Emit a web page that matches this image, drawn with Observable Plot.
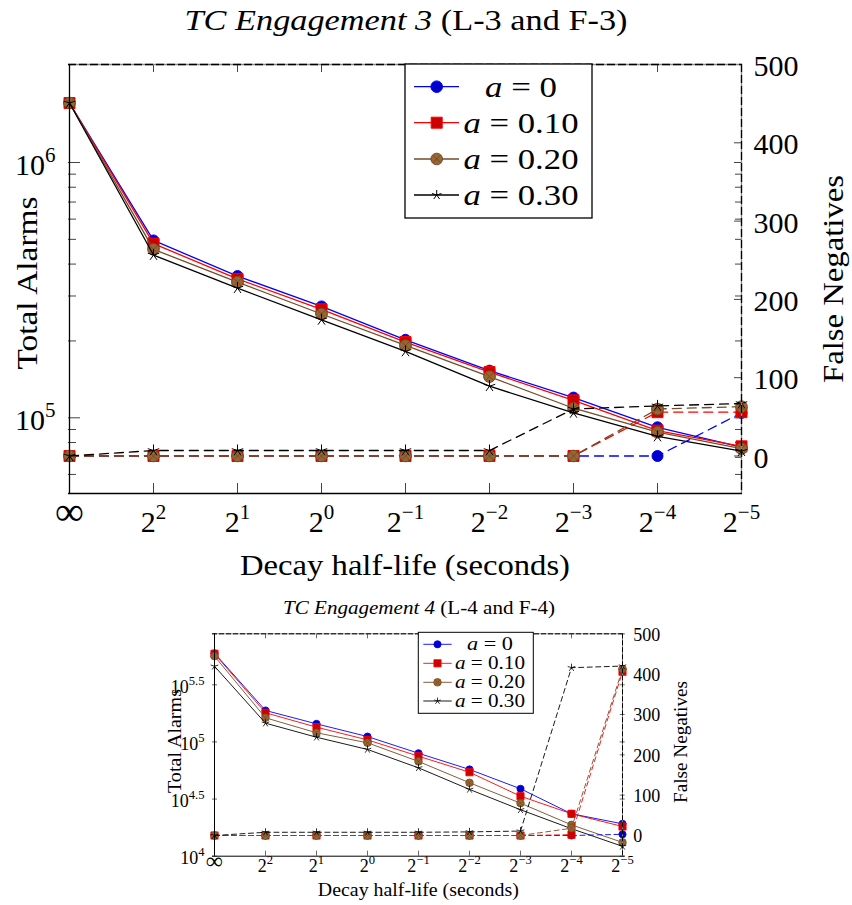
<!DOCTYPE html>
<html><head><meta charset="utf-8">
<script src="https://cdn.jsdelivr.net/npm/d3@7"></script>
<script src="https://cdn.jsdelivr.net/npm/@observablehq/plot@0.6"></script>
<style>
html,body{margin:0;padding:0;background:#fff;}
#page{position:relative;width:852px;height:905px;overflow:hidden;background:#fff;}
</style></head>
<body><div id="page"></div>
<script>
// ---------------- data ----------------
const xLabels = ["∞","2^2","2^1","2^0","2^-1","2^-2","2^-3","2^-4","2^-5"];
const seriesNames = ["a = 0","a = 0.10","a = 0.20","a = 0.30"];
const titleE3 = ["TC Engagement 3", "(L-3 and F-3)"];
const titleE4 = ["TC Engagement 4", "(L-4 and F-4)"];
const xTitle = "Decay half-life (seconds)";
const yLeftTitle = "Total Alarms";
const yRightTitle = "False Negatives";

const alarmsE3 = [
  [1710000, 495000, 359000, 273000, 202000, 153000, 120000, 91800, 76700],
  [1710000, 481000, 350000, 266000, 198000, 151000, 117000, 89100, 77300],
  [1710000, 457000, 340000, 255000, 192000, 145000, 109000, 87800, 75700],
  [1710000, 434000, 322000, 242000, 182000, 133000, 104500, 84500, 74000]
];
const falseNegE3 = [
  [0, 0, 0, 0, 0, 0, 0, 0, 55],
  [0, 0, 0, 0, 0, 0, 0, 56, 56],
  [0, 0, 0, 0, 0, 0, 0, 60, 63],
  [0, 7, 7, 7, 7, 7, 60, 64, 67]
];
const alarmsE4 = [
  [597000, 188400, 143900, 111400, 79600, 57400, 38900, 23500, 19200],
  [590200, 179900, 134600, 104200, 75000, 54300, 33500, 23500, 18200],
  [562300, 162600, 120200, 98200, 67500, 43900, 29100, 18800, 13200],
  [459200, 145900, 109900, 85900, 59300, 38400, 25500, 17400, 12200]
];
const falseNegE4 = [
  [0, 0, 0, 0, 0, 0, 0, 0, 3],
  [0, 0, 0, 0, 0, 0, 0, 2, 406],
  [0, 0, 0, 0, 0, 0, 0, 18, 413],
  [0, 8, 8, 8, 8, 9, 11, 416, 420]
];
const leftTickExpE3 = [5, 6];
const leftTickExpE4 = [4, 4.5, 5, 5.5];
const fnTicks = [0, 100, 200, 300, 400, 500];

// ---------------- styles ----------------
const FONT = "'Liberation Serif', 'DejaVu Serif', serif";
const lineColors = ["#0000ff", "#ff0000", "#734d26", "#000000"];
const markFills = ["#0000cc", "#cc0000", "#996633", "none"];

const symCircle = {draw(ctx, size) { const r = Math.sqrt(size / Math.PI); ctx.moveTo(r, 0); ctx.arc(0, 0, r, 0, 2 * Math.PI); }};
const symSquare = {draw(ctx, size) { const r = Math.sqrt(size / Math.PI) * 0.95; ctx.moveTo(-r, -r); ctx.lineTo(r, -r); ctx.lineTo(r, r); ctx.lineTo(-r, r); ctx.closePath(); }};
const symOtimes = {draw(ctx, size) { const r = Math.sqrt(size / Math.PI); ctx.moveTo(r, 0); ctx.arc(0, 0, r, 0, 2 * Math.PI); const s = r * Math.SQRT1_2; ctx.moveTo(-s, -s); ctx.lineTo(s, s); ctx.moveTo(-s, s); ctx.lineTo(s, -s); }};
const symStar = {draw(ctx, size) { const r = Math.sqrt(size / Math.PI); for (let k = 0; k < 5; k++) { const a = -Math.PI / 2 + k * 2 * Math.PI / 5; ctx.moveTo(0, 0); ctx.lineTo(r * Math.cos(a), r * Math.sin(a)); } }};
const symbols = [symCircle, symSquare, symOtimes, symStar];

const SVGNS = "http://www.w3.org/2000/svg";
function supify(root) {
  root.querySelectorAll("text").forEach(t => {
    if (t.children.length) return;
    const s = t.textContent;
    const i = s.indexOf("^");
    if (i < 0) return;
    t.textContent = s.slice(0, i);
    const ts = document.createElementNS(SVGNS, "tspan");
    ts.setAttribute("dy", "-0.62em");
    ts.setAttribute("font-size", "0.7em");
    ts.textContent = s.slice(i + 1).replace("-", "\u2212");
    t.appendChild(ts);
  });
}

function panel(o) {
  const [L0, L1] = o.logDomain, [F0, F1] = o.fnDomain;
  const fnToY = v => 10 ** (L0 + (v - F0) / (F1 - F0) * (L1 - L0));
  const yToFn = y => F0 + (Math.log10(y) - L0) / (L1 - L0) * (F1 - F0);
  const fw = o.width - o.marginLeft - o.marginRight;
  const fh = o.height - o.marginTop - o.marginBottom;
  const majors = o.leftExp.map(e => 10 ** e);
  const minors = [];
  if (o.minor) {
    for (let k = Math.floor(L0); k < Math.max(...o.leftExp); k++)
      for (let m = 2; m <= 9; m++) { const v = m * 10 ** k; if (v > 10 ** L0 && v < 10 ** L1) minors.push(v); }
  }
  const last = xLabels[xLabels.length - 1];
  const marks = [
    Plot.tickX(xLabels.slice(1, -1), {x: d => d, insetTop: fh - o.xTickLen, stroke: "#444", strokeWidth: o.tickW}),
    Plot.tickX(xLabels.slice(1, -1), {x: d => d, insetBottom: fh - o.xTickLenTop, stroke: "#444", strokeWidth: o.tickW}),
    Plot.tickY(majors, {y: d => d, insetRight: fw - o.yMajorLen, stroke: "#444", strokeWidth: o.tickW}),
    Plot.tickY(minors, {y: d => d, insetRight: fw - o.yMinorLen, stroke: "#444", strokeWidth: o.tickW}),
    Plot.tickY(majors, {y: d => d, insetLeft: fw - o.rMajorLen, stroke: "#444", strokeWidth: o.tickW}),
    Plot.tickY(minors, {y: d => d, insetLeft: fw - o.rMinorLen, stroke: "#444", strokeWidth: o.tickW}),
    Plot.tickY(fnTicks.map(fnToY), {y: d => d, insetLeft: fw - o.rMajorLen, stroke: "#444", strokeWidth: o.tickW}),
  ];
  const rows = seriesNames.map((name, s) => xLabels.map((x, i) => ({x, s, ta: o.alarms[s][i], fn: o.falseNeg[s][i]})));
  rows.forEach((r, s) => {
    marks.push(Plot.line(r, {x: "x", y: "ta", stroke: lineColors[s], strokeWidth: o.lw}));
    marks.push(Plot.dot(r, {x: "x", y: "ta", symbol: symbols[s], r: o.r[s], fill: markFills[s], stroke: lineColors[s], strokeWidth: o.mw}));
  });
  rows.forEach((r, s) => {
    marks.push(Plot.line(r, {x: "x", y: d => fnToY(d.fn), stroke: lineColors[s], strokeWidth: o.lw, strokeDasharray: o.dash}));
    marks.push(Plot.dot(r, {x: "x", y: d => fnToY(d.fn), symbol: symbols[s], r: o.r[s], fill: markFills[s], stroke: lineColors[s], strokeWidth: o.mw}));
  });
  marks.push(
    Plot.ruleY([10 ** L1], {stroke: "#8a8a8a", strokeWidth: o.frameW}),
    Plot.ruleY([10 ** L1], {stroke: "#000", strokeWidth: o.frameW, strokeDasharray: o.frameDash}),
    Plot.ruleX([last], {stroke: "#8a8a8a", strokeWidth: o.frameW}),
    Plot.ruleX([last], {stroke: "#000", strokeWidth: o.frameW, strokeDasharray: o.frameDash}),
    Plot.ruleY([10 ** L0], {stroke: "#000", strokeWidth: o.frameW}),
    Plot.ruleX([xLabels[0]], {stroke: "#000", strokeWidth: o.frameW}),
    Plot.axisX({anchor: "bottom", label: null, tickSize: 0, tickPadding: o.xPad, text: d => d, fontSize: o.font}),
    Plot.axisY({anchor: "left", label: null, ticks: majors, tickSize: 0, tickPadding: o.lPad, dy: o.lDy, fontSize: o.font,
      text: d => "10^" + (Math.round(Math.log10(d) * 10) / 10)}),
    Plot.axisY({anchor: "right", label: null, ticks: fnTicks.map(fnToY), tickSize: 0, tickPadding: o.rPad, dy: o.rDy, fontSize: o.font,
      text: d => String(Math.round(yToFn(d)))})
  );
  const svg = Plot.plot({
    width: o.width, height: o.height,
    marginTop: o.marginTop, marginBottom: o.marginBottom, marginLeft: o.marginLeft, marginRight: o.marginRight,
    x: {type: "point", domain: xLabels, padding: 0, axis: null},
    y: {type: "log", domain: [10 ** L0, 10 ** L1], axis: null},
    style: {fontFamily: FONT, fontSize: o.font + "px", background: "transparent", overflow: "visible", color: "#000"},
    marks
  });
  supify(svg);
  svg.querySelectorAll("text").forEach(t => {
    if (t.textContent === "∞") {
      t.setAttribute("font-size", (o.font * 1.35) + "px");
      t.setAttribute("transform", (t.getAttribute("transform") || "") + ` translate(0,${o.infShift})`);
    }
  });
  svg.style.position = "absolute";
  svg.style.left = "0px";
  svg.style.top = o.top + "px";
  return svg;
}

const page = document.getElementById("page");

page.appendChild(panel({
  top: 0, width: 852, height: 590, marginTop: 64, marginBottom: 97, marginLeft: 68, marginRight: 110,
  logDomain: [4.7035, 6.3838], fnDomain: [-47.9, 500], leftExp: leftTickExpE3, minor: true,
  alarms: alarmsE3, falseNeg: falseNegE3,
  font: 30, xPad: 17, lPad: 13, rPad: 11, lDy: 3, rDy: 2, infShift: -14,
  lw: 1.3, mw: 1, r: [5.5, 5.8, 5.8, 6], dash: "9,6", frameW: 1.3, frameDash: "8,3",
  tickW: 1, xTickLen: 10, xTickLenTop: 8, yMajorLen: 12, yMinorLen: 8, rMajorLen: 8, rMinorLen: 7
}));

page.appendChild(panel({
  top: 590, width: 852, height: 315, marginTop: 43.3, marginBottom: 49.3, marginLeft: 212, marginRight: 227.3,
  logDomain: [4, 5.946], fnDomain: [-51.3, 500], leftExp: leftTickExpE4, minor: false,
  alarms: alarmsE4, falseNeg: falseNegE4,
  font: 18, xPad: 3, lPad: 8, rPad: 8, lDy: 2, rDy: 1, infShift: -7,
  lw: 0.9, mw: 0.8, r: [3.6, 3.8, 3.8, 4], dash: "5,3.5", frameW: 1, frameDash: "5,2",
  tickW: 0.8, xTickLen: 5, xTickLenTop: 5, yMajorLen: 5, yMinorLen: 3, rMajorLen: 5, rMinorLen: 3
}));

// ---------------- titles, axis titles, legends ----------------
const ov = d3.create("svg").attr("width", 852).attr("height", 905)
  .style("position", "absolute").style("left", "0px").style("top", "0px")
  .attr("font-family", FONT).attr("fill", "#000");

function fit(t, len) {
  if (len) t.attr("textLength", len).attr("lengthAdjust", "spacingAndGlyphs");
}
function title(parts, x, y, size, len) {
  const t = ov.append("text").attr("x", x).attr("y", y).attr("text-anchor", "middle").attr("font-size", size);
  t.append("tspan").attr("font-style", "italic").text(parts[0]);
  t.append("tspan").text(" " + parts[1]);
  fit(t, len);
}
function label(txt, x, y, size, rot, len) {
  const t = ov.append("text").attr("transform", `translate(${x},${y})` + (rot ? " rotate(-90)" : ""))
    .attr("text-anchor", "middle").attr("font-size", size).text(txt);
  fit(t, len);
}
function legend(g) {
  ov.append("rect").attr("x", g.x).attr("y", g.y).attr("width", g.w).attr("height", g.h)
    .attr("fill", "#fff").attr("stroke", "#000").attr("stroke-width", g.bw);
  seriesNames.forEach((name, s) => {
    const cy = g.rows[s];
    ov.append("line").attr("x1", g.lx[0]).attr("x2", g.lx[1]).attr("y1", cy).attr("y2", cy)
      .attr("stroke", lineColors[s]).attr("stroke-width", g.lw);
    ov.append("path").attr("transform", `translate(${g.mx},${cy})`)
      .attr("d", d3.symbol(symbols[s], g.r[s] * g.r[s] * Math.PI)())
      .attr("fill", markFills[s]).attr("stroke", lineColors[s]).attr("stroke-width", g.mw);
    const t = ov.append("text").attr("x", g.tx).attr("y", cy).attr("dy", "0.33em")
      .attr("text-anchor", "middle").attr("font-size", g.font);
    t.append("tspan").attr("font-style", "italic").text(name[0]);
    t.append("tspan").text(name.slice(1));
    fit(t, s === 0 ? g.len0 : g.len1);
  });
}

title(titleE3, 406, 30, 30, 443);
label(xTitle, 405, 575, 30, false, 330);
label(yLeftTitle, 37, 283, 30, true, 173);
label(yRightTitle, 843, 279, 30, true, 208);
legend({x: 405, y: 64, w: 187, h: 154, rows: [86.7, 122.7, 159, 195], lx: [414, 459], mx: 436.7, tx: 521,
  font: 30, r: [5.8, 5.8, 5.8, 5], lw: 1.3, mw: 1, bw: 1.3, len0: 72, len1: 115});

title(titleE4, 419, 614, 18, 272);
label(xTitle, 418.3, 896, 18, false, 201);
label(yLeftTitle, 181, 741, 18, true, 104);
label(yRightTitle, 687, 742, 18, true, 122);
legend({x: 418.3, y: 632.3, w: 115, h: 81, rows: [644.3, 663.3, 682.3, 701], lx: [423.3, 451.7], mx: 437.5, tx: 490,
  font: 18, r: [3.6, 3.8, 3.8, 3.4], lw: 0.9, mw: 0.8, bw: 1, len0: 46, len1: 70});

page.appendChild(ov.node());
</script>
</body></html>
